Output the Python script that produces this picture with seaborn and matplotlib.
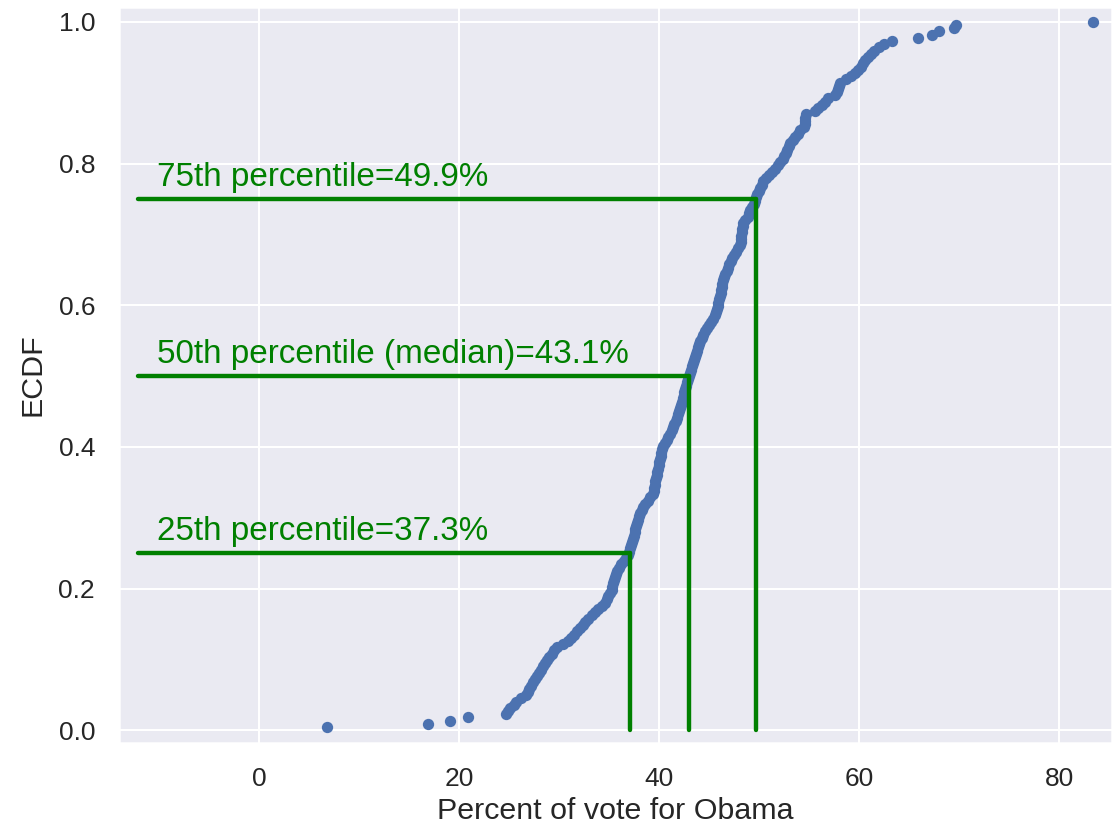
import numpy as np
import pandas as pd
import matplotlib
matplotlib.use("Agg")
import matplotlib.pyplot as plt
import seaborn as sns

# Percent of vote for Obama (sorted county values)
dem_share = [
    6.8, 16.9, 19.1, 20.9, 24.7,
    24.9, 25.1, 25.5, 25.7, 26.2, 26.7,
    26.9, 27.0, 27.2, 27.4, 27.6, 27.8,
    28.0, 28.2, 28.4, 28.6, 28.8,
    29.0, 29.3, 29.5, 29.8,
    30.4, 30.9,
    31.2, 31.5, 31.8,
    32.1, 32.4, 32.6,
    32.9, 33.3, 33.6,
    33.9, 34.3, 34.6,
    34.8, 34.9, 35.1, 35.25,
    35.3, 35.4, 35.5, 35.6, 35.7, 35.8,
    36.0, 36.2, 36.5, 36.7, 36.9,
    37.0, 37.1, 37.2, 37.3, 37.4, 37.5, 37.55, 37.6,
    37.7, 37.8, 37.9, 38.0, 38.1, 38.3, 38.4,
    38.6, 38.9, 39.1, 39.4,
    39.45, 39.5, 39.55, 39.6, 39.7, 39.75, 39.8, 39.9,
    39.95, 40.0, 40.1, 40.15, 40.2, 40.3, 40.4,
    40.6, 40.8, 40.9, 41.1, 41.3,
    41.4, 41.5, 41.7, 41.8, 41.9, 42.0,
    42.1, 42.2, 42.3, 42.35, 42.45, 42.5, 42.6, 42.7,
    42.8, 42.9, 43.0, 43.1,
    43.2, 43.3, 43.4, 43.5, 43.6, 43.7, 43.8,
    43.9, 44.0, 44.1, 44.25, 44.4,
    44.6, 44.8, 45.0, 45.2, 45.4, 45.6,
    45.7, 45.8, 45.85, 45.9, 46.0, 46.1,
    46.15, 46.2, 46.25, 46.3, 46.4,
    46.5, 46.6, 46.75, 46.9, 47.0, 47.15, 47.3,
    47.5, 47.7, 47.9, 48.1,
    48.15, 48.2, 48.22, 48.25, 48.3, 48.35, 48.4,
    48.6, 48.9,
    49.0, 49.1, 49.3, 49.45, 49.6,
    49.7, 49.8, 49.95, 50.1, 50.25, 50.4,
    50.7, 51.0, 51.3, 51.6,
    51.9, 52.1, 52.4,
    52.5, 52.65, 52.8, 52.95, 53.1,
    53.35, 53.6, 53.85, 54.1,
    54.5, 54.55, 54.6, 54.6, 54.65,
    55.6, 55.9,
    56.3, 56.6, 56.9,
    57.6,
    57.8, 57.9, 58.0, 58.1,
    58.7, 59.2,
    59.6, 59.9,
    60.2, 60.4, 60.6,
    60.9, 61.2, 61.5,
    62.0, 62.5, 63.3,
    65.9, 67.3, 68.0, 69.5, 69.7, 83.4,
]

# Percentile markers
pct_levels = [0.25, 0.50, 0.75]
pct_values = [37.05, 42.95, 49.7]
pct_labels = ["25th percentile=37.3%",
              "50th percentile (median)=43.1%",
              "75th percentile=49.9%"]
line_start = -12.07

sns.set_theme(style="darkgrid")
plt.rcParams["font.family"] = ["Liberation Sans", "DejaVu Sans"]

x = np.sort(np.array(dem_share))
y = np.arange(1, len(x) + 1) / len(x)
df = pd.DataFrame({"dem_share": x, "ecdf": y})

fig = plt.figure(figsize=(1120 / 144, 825 / 144), dpi=144)
ax = fig.add_axes([0.1063, 0.0994, 0.8866, 0.8921])

sns.scatterplot(data=df, x="dem_share", y="ecdf", ax=ax, s=32,
                color="#4C72B0", linewidth=0, zorder=3)

for lvl, val, lab in zip(pct_levels, pct_values, pct_labels):
    ax.plot([line_start, val], [lvl, lvl], color="green", lw=2.2, zorder=4)
    ax.plot([val, val], [0, lvl], color="green", lw=2.2, zorder=4)
    ax.text(line_start + 1.9, lvl + 0.008, lab, color="green",
            fontsize=16.6, ha="left", va="bottom")

ax.set_xlim(-13.98, 85.28)
ax.set_ylim(-0.018, 1.021)
ax.set_xticks([0, 20, 40, 60, 80])
ax.set_yticks([0.0, 0.2, 0.4, 0.6, 0.8, 1.0])
ax.set_xlabel("Percent of vote for Obama", fontsize=15.2, labelpad=3)
ax.set_ylabel("ECDF", fontsize=15.2, labelpad=6)
ax.tick_params(axis="x", labelsize=13.2, pad=6)
ax.tick_params(axis="y", labelsize=13.2, pad=6)

fig.savefig("out.png", dpi=144)
